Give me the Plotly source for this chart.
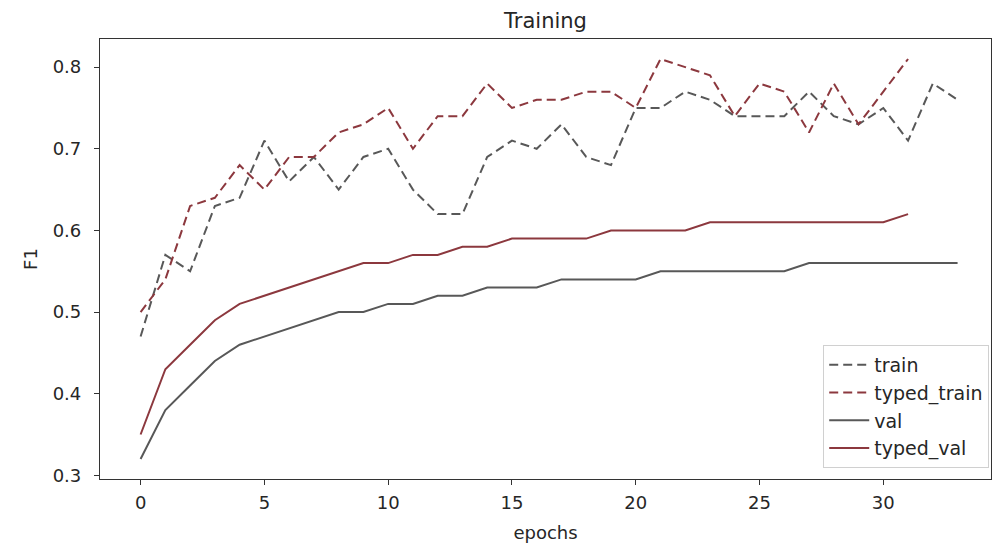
import plotly.graph_objects as go

epochs_train = list(range(34))
epochs_typed = list(range(32))

train = [0.47, 0.57, 0.55, 0.63, 0.64, 0.71, 0.66, 0.69, 0.65, 0.69,
         0.70, 0.65, 0.62, 0.62, 0.69, 0.71, 0.70, 0.73, 0.69, 0.68,
         0.75, 0.75, 0.77, 0.76, 0.74, 0.74, 0.74, 0.77, 0.74, 0.73,
         0.75, 0.71, 0.78, 0.76]

typed_train = [0.50, 0.54, 0.63, 0.64, 0.68, 0.65, 0.69, 0.69, 0.72, 0.73,
               0.75, 0.70, 0.74, 0.74, 0.78, 0.75, 0.76, 0.76, 0.77, 0.77,
               0.75, 0.81, 0.80, 0.79, 0.74, 0.78, 0.77, 0.72, 0.78, 0.73,
               0.77, 0.81]

val = [0.32, 0.38, 0.41, 0.44, 0.46, 0.47, 0.48, 0.49, 0.50, 0.50,
       0.51, 0.51, 0.52, 0.52, 0.53, 0.53, 0.53, 0.54, 0.54, 0.54,
       0.54, 0.55, 0.55, 0.55, 0.55, 0.55, 0.55, 0.56, 0.56, 0.56,
       0.56, 0.56, 0.56, 0.56]

typed_val = [0.35, 0.43, 0.46, 0.49, 0.51, 0.52, 0.53, 0.54, 0.55, 0.56,
             0.56, 0.57, 0.57, 0.58, 0.58, 0.59, 0.59, 0.59, 0.59, 0.60,
             0.60, 0.60, 0.60, 0.61, 0.61, 0.61, 0.61, 0.61, 0.61, 0.61,
             0.61, 0.62]

x_ticks = [0, 5, 10, 15, 20, 25, 30]
y_ticks = [0.3, 0.4, 0.5, 0.6, 0.7, 0.8]

GRAY = "rgb(88,88,88)"
RED = "rgb(140,56,62)"
DASH = "9px,5px"
FONT = "DejaVu Sans"
TXT = "#262626"

fig = go.Figure()
fig.add_trace(go.Scatter(x=epochs_train, y=train, mode="lines", name="train",
                         line=dict(color=GRAY, width=2, dash=DASH)))
fig.add_trace(go.Scatter(x=epochs_typed, y=typed_train, mode="lines", name="typed_train",
                         line=dict(color=RED, width=2, dash=DASH)))
fig.add_trace(go.Scatter(x=epochs_train, y=val, mode="lines", name="val",
                         line=dict(color=GRAY, width=2)))
fig.add_trace(go.Scatter(x=epochs_typed, y=typed_val, mode="lines", name="typed_val",
                         line=dict(color=RED, width=2)))

# page body has an 8px default margin, so the figure is sized to fit the window
W, H = 999, 537
fig.update_layout(
    width=W, height=H,
    margin=dict(l=92, r=16, t=31, b=66, autoexpand=False),
    paper_bgcolor="white", plot_bgcolor="white",
    font=dict(family=FONT, size=18, color=TXT),
    title=dict(text="Training", x=0.5, xref="paper", xanchor="center",
               y=1 - 13 / H, yref="container", yanchor="middle",
               font=dict(size=21, family=FONT, color=TXT)),
    legend=dict(x=0.998, xanchor="right", y=0.025, yanchor="bottom",
                bgcolor="rgba(255,255,255,0.85)", bordercolor="#d0d0d0", borderwidth=1,
                font=dict(size=19, family=FONT, color=TXT),
                tracegroupgap=0, itemwidth=40),
    showlegend=True,
)

fig.update_xaxes(range=[-1.64, 34.35], tickvals=x_ticks, ticks="outside", ticklen=5,
                 tickcolor="#333", showline=True, linecolor="#333", linewidth=1.2,
                 mirror=True, showgrid=False, zeroline=False, automargin=False,
                 ticklabelstandoff=2,
                 title=dict(text="epochs", standoff=14, font=dict(size=18, color=TXT)))
fig.update_yaxes(range=[0.2955, 0.8345], tickvals=y_ticks, tickformat=".1f",
                 ticks="outside", ticklen=5, tickcolor="#333", showline=True,
                 linecolor="#333", linewidth=1.2, mirror=True, showgrid=False,
                 zeroline=False, automargin=False, ticklabelstandoff=9,
                 title=dict(text="F1", standoff=10, font=dict(size=18, color=TXT)))

fig.write_html("out.html")
